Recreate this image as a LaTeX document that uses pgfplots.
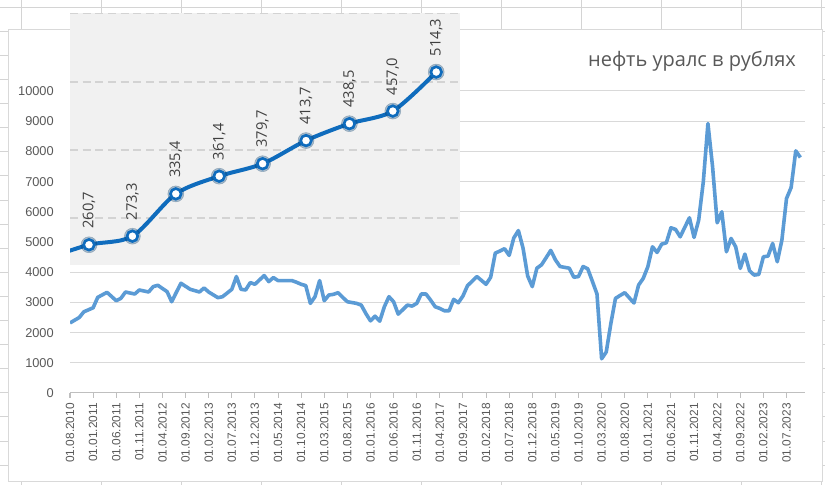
\documentclass[border=0pt]{standalone}
\usepackage{pgfplots}
\pgfplotsset{compat=1.18}
\usepackage{fontspec}
\setmainfont{Liberation Sans}
\newfontfamily\segoe{Open Sans}

\definecolor{labelgray}{HTML}{595959}
\definecolor{gridgray}{HTML}{D9D9D9}
\definecolor{axisgray}{HTML}{BFBFBF}
\definecolor{sheetgrid}{HTML}{D4D4D4}
\definecolor{mainblue}{HTML}{5B9BD5}
\definecolor{insetblue}{HTML}{0F6CBD}
\definecolor{insetbg}{HTML}{F1F1F1}
\definecolor{insetgrid}{HTML}{D3D3D3}
\definecolor{insettext}{HTML}{404040}

% urals in roubles, monthly from 01.08.2010 (index 0)
\pgfplotstableread{
i v
0 2320
1 2410
2 2500
3 2689
4 2755
5 2822
6 3167
7 3250
8 3333
9 3195
10 3056
11 3133
12 3344
13 3311
14 3278
15 3411
16 3378
17 3344
18 3522
19 3567
20 3460
21 3356
22 3022
23 3333
24 3633
25 3533
26 3433
27 3390
28 3344
29 3478
30 3344
31 3250
32 3156
33 3189
34 3310
35 3433
36 3856
37 3433
38 3411
39 3656
40 3600
41 3745
42 3889
43 3689
44 3822
45 3722
46 3722
47 3722
48 3722
49 3667
50 3600
51 3556
52 2967
53 3189
54 3722
55 3056
56 3244
57 3267
58 3322
59 3167
60 3022
61 2995
62 2967
63 2911
64 2633
65 2389
66 2544
67 2378
68 2856
69 3189
70 3022
71 2611
72 2760
73 2911
74 2878
75 2967
76 3278
77 3278
78 3078
79 2856
80 2800
81 2722
82 2722
83 3100
84 2989
85 3211
86 3556
87 3700
88 3856
89 3730
90 3600
91 3833
92 4633
93 4700
94 4778
95 4556
96 5133
97 5378
98 4800
99 3878
100 3522
101 4133
102 4244
103 4480
104 4722
105 4411
106 4189
107 4160
108 4133
109 3833
110 3856
111 4189
112 4111
113 3700
114 3278
115 1133
116 1356
117 2300
118 3133
119 3230
120 3322
121 3150
122 2980
123 3574
124 3794
125 4180
126 4842
127 4654
128 4930
129 4974
130 5471
131 5416
132 5173
133 5490
134 5802
135 5151
136 5724
137 6993
138 8923
139 7500
140 5636
141 6000
142 4677
143 5118
144 4842
145 4125
146 4600
147 4048
148 3905
149 3927
150 4511
151 4533
152 4952
153 4346
154 5063
155 6441
156 6805
157 8018
158 7798
}\urals

% pasted inset: price per barrel steps
\pgfplotstableread{
k v
-1 240
0 260.7
1 273.3
2 335.4
3 361.4
4 379.7
5 413.7
6 438.5
7 457.0
8 514.3
}\inset

\begin{document}
\begin{tikzpicture}
% worksheet behind the chart
\fill[white] (0,0) rectangle (618.75pt,363.75pt);
\foreach \k in {0,...,10}
  \draw[sheetgrid, line width=0.75pt] ({16.3pt+60pt*\k},0) -- ({16.3pt+60pt*\k},363.75pt);
\foreach \k in {0,...,19}
  \draw[sheetgrid, line width=0.75pt] (0,{358.3pt-18.075pt*\k}) -- (618.75pt,{358.3pt-18.075pt*\k});
\filldraw[fill=white, draw=gridgray, line width=0.75pt] (6pt,2.25pt) rectangle (616.5pt,341.25pt);

\node[font=\segoe\fontsize{15}{17}\selectfont, text=labelgray] at (519pt,318pt) {нефть уралс в рублях};

\begin{axis}[
    at={(52.5pt,69pt)}, anchor=south west,
    scale only axis, width=551.25pt, height=226.5pt,
    xmin=0, xmax=159, ymin=0, ymax=10000,
    axis x line*=bottom, axis y line*=left,
    x axis line style={draw=axisgray, line width=0.75pt},
    y axis line style={draw=none},
    xtick={0,5,...,155},
    xticklabels={01.08.2010,01.01.2011,01.06.2011,01.11.2011,01.04.2012,01.09.2012,
      01.02.2013,01.07.2013,01.12.2013,01.05.2014,01.10.2014,01.03.2015,01.08.2015,
      01.01.2016,01.06.2016,01.11.2016,01.04.2017,01.09.2017,01.02.2018,01.07.2018,
      01.12.2018,01.05.2019,01.10.2019,01.03.2020,01.08.2020,01.01.2021,01.06.2021,
      01.11.2021,01.04.2022,01.09.2022,01.02.2023,01.07.2023},
    ytick={0,1000,...,10000},
    scaled y ticks=false,
    ymajorgrids,
    major grid style={draw=gridgray, line width=0.75pt},
    tick align=outside, major tick length=3.75pt,
    xtick style={draw=axisgray, line width=0.75pt},
    ytick style={draw=none},
    tick label style={text=labelgray},
    xticklabel style={rotate=90, anchor=east, inner sep=0pt, font=\fontsize{8.9}{10}\selectfont},
    yticklabel style={anchor=east, inner sep=0pt, font=\fontsize{9.6}{11}\selectfont},
    xticklabel shift=3.75pt,
    yticklabel shift=8.25pt,
    /pgf/number format/assume math mode=true,
    /pgf/number format/1000 sep={},
]
\addplot[mainblue, line width=2.7pt, line join=round, mark=none] table[x=i, y=v] {\urals};
\end{axis}

\begin{axis}[
    at={(52.5pt,165pt)}, anchor=south west,
    scale only axis, width=292.5pt, height=189pt,
    xmin=-0.438, xmax=8.548, ymin=231, ymax=601,
    axis background/.style={fill=insetbg},
    axis line style={draw=none},
    xtick=\empty,
    ytick={300,400,500,600}, yticklabels={},
    ytick style={draw=none},
    ymajorgrids,
    major grid style={draw=insetgrid, dash pattern=on 6pt off 3.5pt, line width=1.1pt},
    /pgf/number format/assume math mode=true,
]
\addplot[insetblue, line width=3pt, smooth, mark=none] table[x=k, y=v] {\inset};
\addplot[only marks, mark=*, mark size=6pt, color=insetblue!60!black, opacity=0.3]
  table[x=k, y=v] {\inset};
\addplot[only marks, mark=*, mark size=4pt,
    mark options={fill=white, draw=insetblue, line width=2pt},
    nodes near coords={\pgfmathprintnumber[fixed, fixed zerofill, precision=1, use comma, assume math mode=true]{\pgfplotspointmeta}},
    nodes near coords style={rotate=90, anchor=west, inner xsep=11pt, inner ysep=0pt,
      font=\segoe\fontsize{11}{13}\selectfont, text=insettext},
] table[x=k, y=v] {\inset};
\end{axis}

\pgfresetboundingbox
\path (0,0) rectangle (618.75pt,363.75pt);
\end{tikzpicture}
\end{document}
